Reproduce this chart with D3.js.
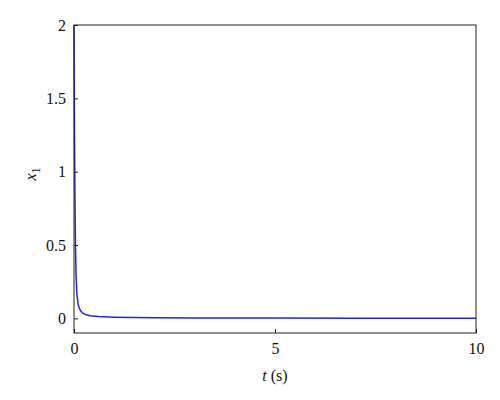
<!DOCTYPE html>
<html><head><meta charset="utf-8">
<script src="https://cdn.jsdelivr.net/npm/d3@7"></script>
<style>body{margin:0;background:#fff}svg{display:block}
</style>
</head><body>
<svg id="c" width="500" height="400"></svg>
<script>
const times = [0, 0.005, 0.01, 0.015, 0.02, 0.03, 0.04, 0.05, 0.07, 0.1, 0.13, 0.17, 0.22, 0.3, 0.4, 0.6, 1, 1.5, 2, 3, 4, 5, 7, 10];
const x1Values = [2, 1.7, 1.4, 1.15, 0.95, 0.65, 0.45, 0.3, 0.17, 0.1, 0.07, 0.05, 0.035, 0.025, 0.018, 0.012, 0.008, 0.006, 0.004, 0.003, 0.002, 0.0015, 0.001, 0.0005];
const xTicks = [0, 5, 10];
const yTicks = [0, 0.5, 1, 1.5, 2];
const yTickLabels = ["0", "0.5", "1", "1.5", "2"];

const font = "Liberation Serif";
const svg = d3.select("#c");
const L = 74, R = 476, T = 25, B = 333;
const x = d3.scaleLinear().domain([0, 10]).range([L, R]);
const y = d3.scaleLinear().domain([-0.1, 2]).range([B, T]);

const line = d3.line().x((d, i) => x(times[i])).y(d => y(d));
svg.append("path").datum(x1Values).attr("d", line)
  .attr("fill", "none").attr("stroke", "#2626d6").attr("stroke-width", 1.5);

const xAxis = svg.append("g").attr("transform", `translate(0,${B})`)
  .call(d3.axisBottom(x).tickValues(xTicks).tickSize(-4).tickPadding(10).tickFormat(d3.format("d")));
const yAxis = svg.append("g").attr("transform", `translate(${L},0)`)
  .call(d3.axisLeft(y).tickValues(yTicks).tickSize(-4).tickPadding(8).tickFormat((d, i) => yTickLabels[i]));
[xAxis, yAxis].forEach(g => {
  g.attr("font-family", font);
  g.select(".domain").remove();
  g.selectAll("line").attr("stroke", "#222");
  g.selectAll("text").attr("font-size", 16).attr("fill", "#111");
});

svg.append("rect").attr("x", L).attr("y", T).attr("width", R - L).attr("height", B - T)
  .attr("fill", "none").attr("stroke", "#222").attr("stroke-width", 1);

const xl = svg.append("text").attr("x", (L + R) / 2).attr("y", 381).attr("font-family", font)
  .attr("text-anchor", "middle").attr("font-size", 16).attr("fill", "#111");
xl.append("tspan").attr("font-style", "italic").text("t");
xl.append("tspan").text(" (s)");

const yl = svg.append("text").attr("transform", `translate(36,${(T + B) / 2 - 5}) rotate(-90)`).attr("font-family", font)
  .attr("text-anchor", "middle").attr("font-size", 16).attr("fill", "#111");
yl.append("tspan").attr("font-style", "italic").text("x");
yl.append("tspan").attr("font-size", 12).attr("dy", 4).text("1");
</script>
</body></html>
